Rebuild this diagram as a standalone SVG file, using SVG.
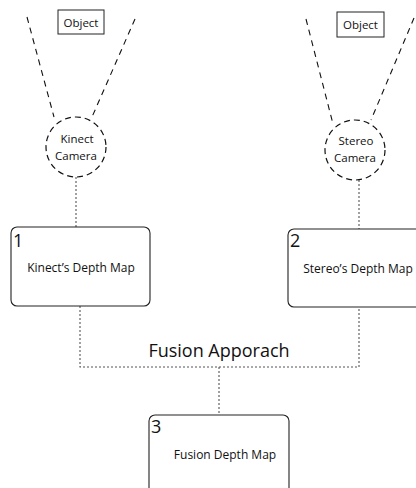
<svg xmlns="http://www.w3.org/2000/svg" width="416" height="488" viewBox="0 0 416 488">
<style>
text{font-family:"Open Sans","Noto Sans","DejaVu Sans",sans-serif;fill:#111}
.obj{fill:#fff;stroke:#222;stroke-width:1}
.fov{fill:none;stroke:#111;stroke-width:1.1;stroke-dasharray:6,5}
.cam{fill:#fff;stroke:#111;stroke-width:1.2;stroke-dasharray:6,4}
.box{fill:#fff;stroke:#222;stroke-width:1.1}
.con{fill:none;stroke:#555;stroke-width:1.1;stroke-dasharray:2,2}
.lbl{font-size:12px;text-anchor:middle}
.cl{font-size:11.5px;text-anchor:middle}
.ob{font-size:11.5px;text-anchor:middle}
.num{font-size:18px}
</style>
<rect width="416" height="488" fill="#fff"/>
<g id="connectors">
<line class="fov" x1="27" y1="17" x2="54" y2="117"/>
<line class="fov" x1="135" y1="19" x2="92" y2="117"/>
<line class="fov" x1="306" y1="19" x2="333" y2="124"/>
<line class="fov" x1="414" y1="18" x2="371" y2="120"/>
<line class="con" x1="76" y1="177" x2="76" y2="227"/>
<line class="con" x1="359" y1="180" x2="359" y2="229"/>
<polyline class="con" points="80,306 80,367 359,367 359,307"/>
<line class="con" x1="219" y1="367" x2="219" y2="415"/>
</g>
<g id="object1">
<rect class="obj" x="58" y="10" width="46" height="24"/>
<text class="ob" x="81" y="27">Object</text>
</g>
<g id="object2">
<rect class="obj" x="337" y="12" width="47" height="25"/>
<text class="ob" x="360.5" y="29">Object</text>
</g>
<g id="kinect-camera">
<circle class="cam" cx="76" cy="147" r="30"/>
<text class="cl" x="77" y="143">Kinect</text>
<text class="cl" x="76" y="160">Camera</text>
</g>
<g id="stereo-camera">
<circle class="cam" cx="355" cy="150" r="30"/>
<text class="cl" x="356" y="145">Stereo</text>
<text class="cl" x="355" y="162">Camera</text>
</g>
<g id="kinect-depth">
<rect class="box" x="11" y="227" width="139" height="79" rx="6"/>
<text class="num" x="13" y="247">1</text>
<text class="lbl" x="81" y="272">Kinect’s Depth Map</text>
</g>
<g id="stereo-depth">
<rect class="box" x="288" y="229" width="140" height="78" rx="6"/>
<text class="num" x="290" y="247">2</text>
<text class="lbl" x="358" y="273">Stereo’s Depth Map</text>
</g>
<g id="fusion-label">
<text x="219" y="357" font-size="18" text-anchor="middle">Fusion Apporach</text>
</g>
<g id="fusion-depth">
<rect class="box" x="149" y="415" width="140" height="90" rx="6"/>
<text class="num" x="151" y="433">3</text>
<text class="lbl" x="225" y="459">Fusion Depth Map</text>
</g>
</svg>
